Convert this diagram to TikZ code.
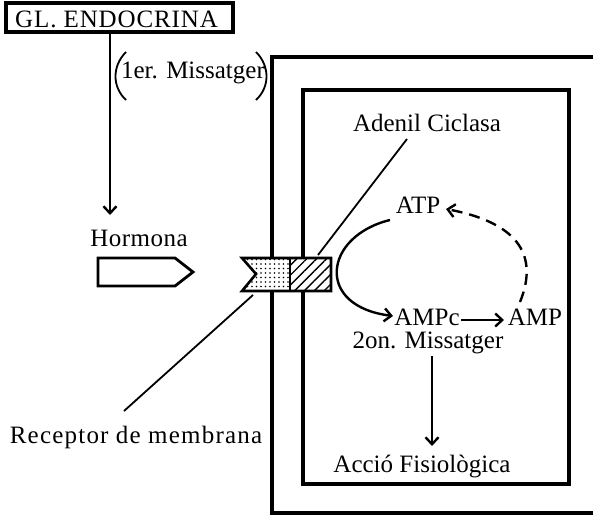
\documentclass[tikz,border=0pt]{standalone}
\usepackage{fontspec}
\setmainfont{Liberation Serif}
\usetikzlibrary{arrows.meta,patterns.meta}
\begin{document}
\begin{tikzpicture}[x=1pt,y=-1pt,
  lbl/.style={font=\fontsize{25}{28}\selectfont, inner sep=0pt},
  thickbox/.style={line width=4pt},
  thinln/.style={line width=1.8pt},
  arr/.style={line width=2.4pt,-{Straight Barb[length=7pt,width=13pt]}},
  darr/.style={arr,dash pattern=on 11pt off 7pt}]
\useasboundingbox (0,0) rectangle (593,516);
\fill[white] (0,0) rectangle (593,516);

% boxes
\draw[thickbox] (593,57) -- (272,57) -- (272,513) -- (593,513);
\draw[thickbox] (303,90) rectangle (569,484);

% gland
\node[draw, line width=4pt, minimum width=227pt, minimum height=29pt, inner sep=0pt] (gl) at (119,18) {};
\node[lbl, anchor=west] (gltext) at (15,19) {\addfontfeatures{LetterSpace=3.5}GL. ENDOCRINA};
\node[lbl] (msg) at (193,73) {1er. Missatger};
\draw[line width=1.8pt] (126,52) .. controls (112,66) and (112,87) .. (126,100);
\draw[line width=1.8pt] (256,52) .. controls (270,66) and (270,87) .. (256,100);
\coordinate (hormtop) at (110,215);
\draw[arr] (gl.south -| hormtop) -- (hormtop);
\node[lbl] (horm) at (139,238) {\addfontfeatures{LetterSpace=2}Hormona};
\draw[line width=2.8pt] (98,258) -- (175,258) -- (193,272) -- (175,286) -- (98,286) -- cycle;

% receptor
\coordinate (rA) at (242,258);
\coordinate (rB) at (290,258);
\coordinate (rC) at (290,291);
\coordinate (rD) at (242,291);
\coordinate (rN) at (256,274);
\coordinate (rE) at (331,258);
\coordinate (rF) at (331,291);
\fill[white] (rA) -- (rE) -- (rF) -- (rD) -- (rN) -- cycle;
\path[pattern={Dots[radius=0.9pt,distance=4.5pt]}] (rA) -- (rB) -- (rC) -- (rD) -- (rN) -- cycle;
\path[pattern={Lines[angle=45,distance=7pt,line width=1.4pt]}] (rB) rectangle (rF);
\draw[line width=2.6pt] (rA) -- (rE) -- (rF) -- (rD) -- (rN) -- cycle;
\draw[line width=1.6pt] (rB) -- (rC);

% labels
\node[lbl] (aden) at (427,123) {Adenil Ciclasa};
\coordinate (adenfoot) at (407,139);
\coordinate (recTR) at (318,255);
\draw[thinln] (adenfoot) -- (recTR);
\node[lbl] (recep) at (136,437) {\addfontfeatures{LetterSpace=4.8}Receptor de membrana};
\coordinate (recfoot) at (124,411);
\coordinate (recBL) at (253,295);
\draw[thinln] (recfoot) -- (recBL);

% cycle
\node[lbl] (atp) at (418,205) {ATP};
\node[lbl] (ampc) at (427,317) {AMPc};
\node[lbl] (amp) at (535,317) {AMP};
\node[lbl] (second) at (428,343) {2on. Missatger};
\node[lbl] (accio) at (422,466) {Acció Fisiològica};
\coordinate (c1) at (390,220);
\coordinate (c2) at (393,316);
\draw[arr] (c1) .. controls (324,236) and (314,306) .. (c2);
\coordinate (c3) at (461,320);
\coordinate (c4) at (504,320);
\draw[arr] (c3) -- (c4);
\coordinate (c5) at (520,302);
\coordinate (c6) at (446,209);
\draw[darr] (c5) .. controls (535,265) and (530,225) .. (c6);
\coordinate (c7) at (432,356);
\coordinate (c8) at (432,446);
\draw[arr] (c7) -- (c8);
\end{tikzpicture}
\end{document}
